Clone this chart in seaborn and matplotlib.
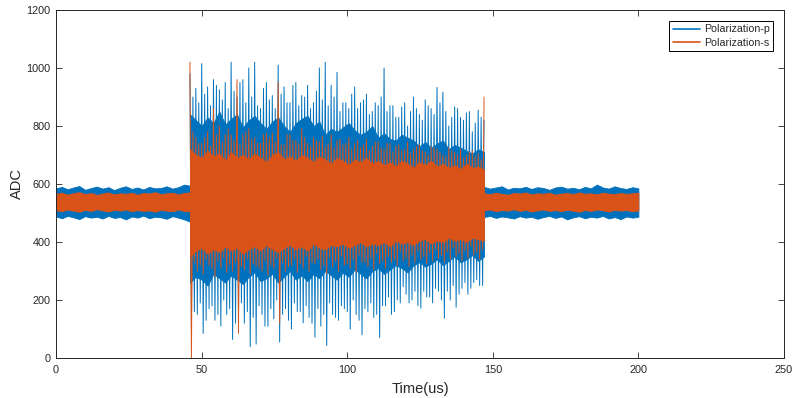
import numpy as np
import matplotlib
matplotlib.use("Agg")
import matplotlib.pyplot as plt
import seaborn as sns

# time grids (us)
t_left = np.linspace(0, 46, 24)
t_burst = np.linspace(46, 147, 51)
t_right = np.linspace(147, 200, 27)

# Polarization-p, quiet parts (band edges)
p_left_hi = [585, 590, 582, 588, 593, 580, 586, 591, 584, 589, 579, 587, 592, 583, 588, 581, 590, 585, 586, 592, 584, 589, 598, 594]
p_left_lo = [488, 482, 490, 485, 479, 489, 484, 487, 481, 490, 483, 486, 478, 488, 484, 491, 482, 487, 485, 480, 489, 484, 478, 470]
p_right_hi = [590, 584, 588, 592, 581, 587, 585, 590, 583, 589, 586, 580, 588, 591, 584, 587, 582, 590, 585, 598, 588, 584, 592, 586, 583, 589, 585]
p_right_lo = [486, 490, 483, 488, 485, 481, 489, 484, 487, 480, 486, 490, 483, 488, 478, 485, 489, 482, 487, 484, 490, 481, 486, 479, 488, 484, 487]

# Polarization-p, burst: dense core and spike extremes
p_core_hi = [840, 820, 800, 830, 810, 850, 805, 825, 840, 795, 820, 835, 810, 790, 815, 830, 800, 780, 810, 825, 835, 800, 815, 770, 790,
             780, 795, 810, 785, 770, 780, 800, 760, 775, 755, 750, 770, 760, 750, 730, 745, 725, 740, 750, 720, 735, 725, 715, 705, 720, 710]
p_core_lo = [260, 280, 270, 250, 290, 275, 260, 285, 270, 255, 280, 295, 265, 275, 290, 260, 280, 300, 270, 285, 265, 290, 275, 300, 285,
             270, 295, 280, 305, 290, 275, 300, 310, 290, 305, 320, 310, 295, 320, 330, 315, 325, 340, 320, 335, 350, 330, 340, 355, 335, 350]
p_peak_hi = [980, 930, 1015, 935, 960, 925, 950, 1020, 900, 960, 1000, 1020, 860, 950, 905, 1010, 935, 880, 950, 905, 940, 880, 1000, 1020, 940,
             985, 880, 860, 935, 880, 910, 850, 870, 1000, 870, 830, 866, 800, 900, 840, 890, 860, 933, 917, 800, 866, 830, 845, 780, 855, 820]
p_peak_lo = [97, 150, 85, 170, 130, 110, 150, 64, 140, 120, 39, 48, 150, 110, 135, 55, 170, 100, 160, 121, 140, 72, 110, 43, 150,
             130, 170, 100, 150, 80, 160, 140, 71, 180, 150, 200, 246, 190, 230, 172, 210, 190, 230, 137, 200, 175, 240, 220, 260, 250, 280]
p_mid_hi = [900, 880, 910, 870, 940, 890, 860, 920, 950, 880, 900, 870, 930, 890, 860, 910, 880, 940, 870, 900, 860, 920, 890, 870, 900,
            850, 880, 910, 860, 890, 840, 880, 900, 850, 870, 830, 880, 850, 860, 820, 870, 840, 880, 850, 830, 860, 820, 850, 810, 830, 800]
p_mid_lo = [160, 190, 130, 180, 150, 200, 170, 120, 190, 160, 140, 180, 110, 170, 200, 150, 130, 190, 160, 180, 120, 170, 150, 190, 140,
            180, 160, 200, 130, 170, 190, 150, 180, 210, 160, 190, 220, 200, 180, 230, 210, 240, 200, 230, 250, 220, 260, 240, 270, 250, 290]

# Polarization-s, quiet parts
s_left_hi = [566, 570, 563, 568, 572, 565, 569, 562, 567, 571, 564, 568, 566, 570, 563, 569, 567, 572, 565, 568, 570, 564, 569, 571]
s_left_lo = [510, 506, 512, 508, 504, 511, 507, 513, 509, 505, 511, 508, 512, 506, 510, 507, 509, 504, 511, 508, 506, 512, 507, 505]
s_right_hi = [568, 565, 570, 566, 563, 569, 567, 571, 564, 568, 566, 570, 563, 567, 569, 565, 571, 566, 568, 564, 570, 567, 565, 569, 566, 568, 570]
s_right_lo = [509, 512, 506, 510, 508, 513, 507, 511, 505, 509, 512, 507, 510, 506, 511, 508, 504, 510, 507, 512, 509, 505, 511, 508, 510, 506, 509]

# Polarization-s, burst
s_core_hi = [720, 700, 690, 715, 695, 705, 680, 710, 690, 700, 685, 705, 690, 675, 700, 710, 685, 695, 680, 700, 690, 675, 695, 685, 670,
             690, 680, 665, 685, 675, 690, 670, 680, 665, 675, 660, 680, 670, 655, 675, 665, 680, 660, 670, 655, 665, 650, 670, 655, 660, 650]
s_core_lo = [350, 370, 380, 360, 375, 365, 385, 370, 380, 360, 375, 385, 370, 390, 375, 365, 380, 390, 375, 385, 370, 395, 380, 375, 390,
             385, 395, 380, 390, 400, 385, 395, 390, 400, 385, 405, 395, 400, 390, 405, 410, 395, 405, 400, 415, 405, 410, 400, 415, 410, 405]
s_peak_hi = [1020, 760, 740, 780, 860, 800, 770, 770, 960, 770, 790, 760, 740, 775, 775, 950, 735, 770, 750, 790, 740, 760, 745, 730, 770,
             750, 735, 760, 740, 725, 755, 730, 745, 720, 740, 730, 715, 745, 720, 735, 710, 730, 720, 700, 725, 710, 720, 700, 715, 705, 900]
s_peak_lo = [0, 300, 290, 320, 280, 310, 295, 300, 85, 305, 290, 315, 300, 285, 310, 120, 300, 320, 295, 310, 300, 325, 305, 290, 315,
             300, 320, 310, 295, 330, 315, 305, 325, 310, 330, 320, 335, 315, 330, 340, 325, 335, 345, 330, 340, 350, 335, 345, 355, 340, 175]
s_mid_hi = [780, 740, 760, 730, 770, 745, 790, 750, 735, 780, 755, 740, 770, 760, 745, 735, 770, 750, 740, 760, 730, 750, 765, 740, 725,
            755, 740, 720, 750, 735, 715, 745, 725, 740, 710, 735, 720, 705, 730, 715, 700, 725, 710, 695, 715, 700, 690, 710, 695, 685, 700]
s_mid_lo = [330, 320, 340, 310, 335, 345, 320, 330, 315, 340, 325, 310, 335, 320, 345, 330, 315, 340, 325, 350, 330, 340, 320, 345, 335,
            350, 325, 340, 355, 330, 345, 360, 335, 350, 340, 365, 345, 355, 370, 350, 360, 375, 355, 365, 380, 360, 370, 385, 365, 375, 390]

BLUE = "#0072BD"
ORANGE = "#D95319"
INK = "#262626"

sns.set_style("ticks")
plt.rcParams["font.family"] = ["Liberation Sans", "DejaVu Sans"]
plt.rcParams["xtick.direction"] = "in"
plt.rcParams["ytick.direction"] = "in"
plt.rcParams["xtick.top"] = True
plt.rcParams["ytick.right"] = True


def zigzag(t, hi, lo, mhi, mlo):
    # four samples per grid step: peak, trough, smaller peak, smaller trough
    step = t[1] - t[0]
    x = (t[:, None] + np.arange(4) * step / 4).ravel()
    y = np.column_stack([hi, lo, mhi, mlo]).ravel()
    keep = x <= t[-1] + 1e-9
    return x[keep], y[keep]


fig = plt.figure(figsize=(8, 3.98), dpi=100)
ax = fig.add_axes([0.07, 0.1005, 0.91, 0.8744])

series = [
    (BLUE, "Polarization-p",
     [(t_left, p_left_lo, p_left_hi), (t_burst, p_core_lo, p_core_hi), (t_right, p_right_lo, p_right_hi)],
     (p_peak_hi, p_peak_lo, p_mid_hi, p_mid_lo)),
    (ORANGE, "Polarization-s",
     [(t_left, s_left_lo, s_left_hi), (t_burst, s_core_lo, s_core_hi), (t_right, s_right_lo, s_right_hi)],
     (s_peak_hi, s_peak_lo, s_mid_hi, s_mid_lo)),
]

z = 1
for color, label, bands, peaks in series:
    for t, lo, hi in bands:
        ax.fill_between(t, lo, hi, color=color, lw=0.6, edgecolor=color, zorder=z)
    x, y = zigzag(t_burst, *peaks)
    sns.lineplot(x=x, y=y, ax=ax, color=color, lw=0.7, estimator=None, sort=False,
                 label=label, zorder=z + 1)
    z += 2

ax.set_xlim(0, 250)
ax.set_ylim(0, 1200)
ax.set_xticks(np.arange(0, 251, 50))
ax.set_yticks(np.arange(0, 1201, 200))
ax.tick_params(length=4, width=0.6, colors=INK, labelsize=7.8)
ax.tick_params(axis="x", pad=5)
ax.tick_params(axis="y", pad=4)
for sp in ax.spines.values():
    sp.set_linewidth(0.7)
    sp.set_color(INK)
    sp.set_zorder(10)
ax.set_xlabel("Time(us)", fontsize=10.5, color=INK, labelpad=5)
ax.set_ylabel("ADC", fontsize=10.5, color=INK, labelpad=2)

leg = ax.legend(loc="upper right", fontsize=7.7, frameon=True, fancybox=False, edgecolor="black",
                framealpha=1, handlelength=2.6, handletextpad=0.3, labelspacing=0.3,
                borderpad=0.35, borderaxespad=1.0)
leg.get_frame().set_linewidth(0.7)
leg.set_zorder(20)
for line in leg.get_lines():
    line.set_linewidth(1.2)

fig.savefig("out.png", dpi=100)
